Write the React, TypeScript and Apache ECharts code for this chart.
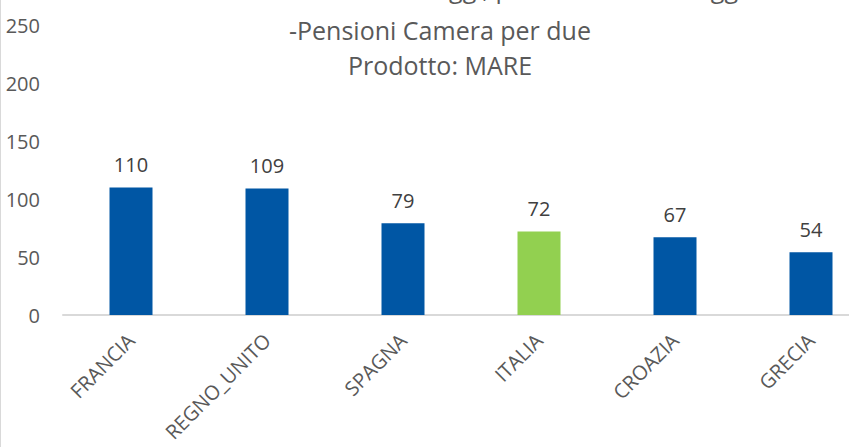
import React, { useEffect, useRef } from "react";
import * as echarts from "echarts";

const categories = ["FRANCIA", "REGNO_UNITO", "SPAGNA", "ITALIA", "CROAZIA", "GRECIA"];
const values = [110, 109, 79, 72, 67, 54];
const highlight = "ITALIA";
const titleFirstLine = "Prezzo medio a notte in alloggi, per numero di alloggi";
const titleLines = ["-Pensioni Camera per due", "Prodotto: MARE"];

const FONT = "'Open Sans', 'Noto Sans', sans-serif";

export default function App() {
  const ref = useRef<HTMLDivElement>(null);
  useEffect(() => {
    document.body.style.margin = "0";
    const chart = echarts.init(ref.current!, null, { renderer: "svg" });
    chart.setOption({
      animation: false,
      backgroundColor: "#ffffff",
      title: {
        text: titleLines.join("\n"),
        left: 435,
        top: 7,
        textAlign: "center",
        textStyle: {
          fontFamily: FONT,
          fontSize: 25,
          fontWeight: "normal",
          color: "#595959",
          lineHeight: 35,
        },
      },
      graphic: [
        {
          type: "line",
          shape: { x1: 0.5, y1: 0, x2: 0.5, y2: 447 },
          style: { stroke: "#d9d9d9", lineWidth: 1 },
        },
        {
          type: "text",
          x: 435,
          y: -12,
          style: {
            text: titleFirstLine,
            align: "center",
            verticalAlign: "middle",
            fontFamily: FONT,
            fontSize: 25,
            fill: "#595959",
          },
        },
      ],
      grid: { left: 63, top: 25, width: 816, height: 290, containLabel: false },
      xAxis: {
        type: "category",
        data: categories,
        axisLine: { lineStyle: { color: "#d9d9d9", width: 2 } },
        axisTick: { show: false },
        axisLabel: {
          rotate: 45,
          interval: 0,
          margin: 22,
          color: "#595959",
          fontFamily: FONT,
          fontSize: 20,
        },
      },
      yAxis: {
        type: "value",
        min: 0,
        max: 250,
        interval: 50,
        splitLine: { show: false },
        axisLine: { show: false },
        axisTick: { show: false },
        axisLabel: {
          color: "#595959",
          fontFamily: FONT,
          fontSize: 20,
          margin: 23,
        },
      },
      series: [
        {
          type: "bar",
          barWidth: 43,
          data: values.map((v, i) => ({
            value: v,
            itemStyle: { color: categories[i] === highlight ? "#92D050" : "#0056A4" },
          })),
          label: {
            show: true,
            position: "top",
            distance: 13,
            color: "#404040",
            fontFamily: FONT,
            fontSize: 20,
          },
        },
      ],
    });
    return () => chart.dispose();
  }, []);
  return (
    <div style={{ position: "absolute", left: 0, top: 0, width: 849, height: 447, overflow: "hidden" }}>
      <div ref={ref} style={{ width: 900, height: 447 }} />
    </div>
  );
}
